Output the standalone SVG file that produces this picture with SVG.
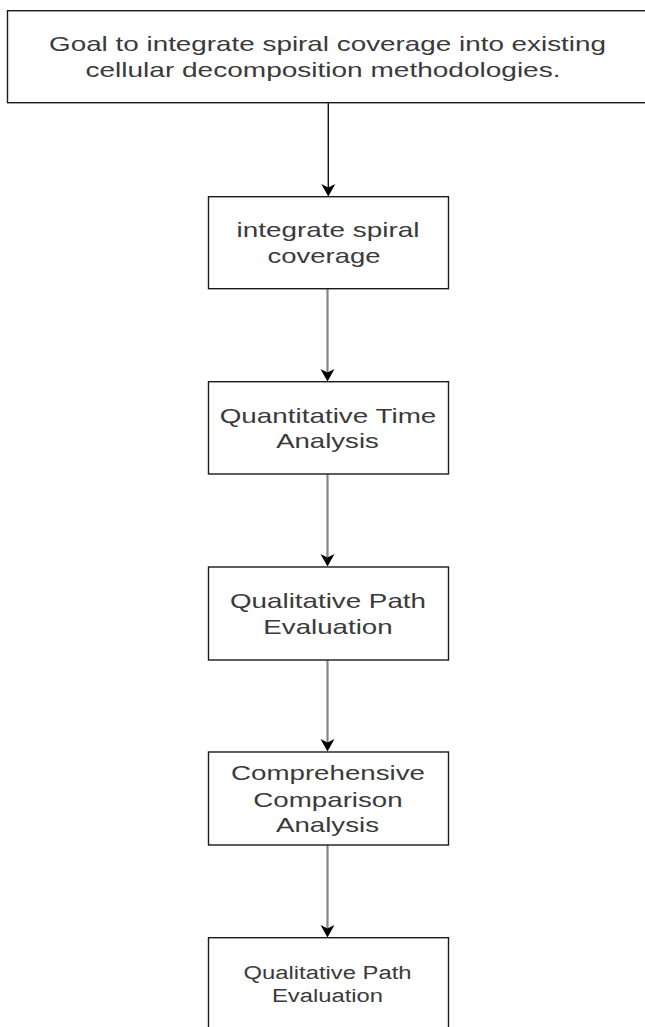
<svg xmlns="http://www.w3.org/2000/svg" width="645" height="1027" viewBox="0 0 645 1027">
<style>
.box{fill:#ffffff;stroke:#1a1a1a;stroke-width:1.4}
.t{font-family:"Liberation Sans",Arial,sans-serif;font-size:21px;fill:#3a3a3a;text-anchor:middle}
.s{font-size:18px}
.c1{stroke:#111111;stroke-width:1.4;fill:none}
.c2{stroke:#858585;stroke-width:2.2;fill:none}
.ah{fill:#000000;stroke:none}
</style>
<rect width="645" height="1027" fill="#ffffff"/>
<g id="connectors">
<line class="c1" x1="328.3" y1="103" x2="328.3" y2="190"/>
<path class="ah" d="M328.3,196.5 L321.3,184 L328.3,187.5 L335.3,184 Z"/>
<line class="c2" x1="327.5" y1="289" x2="327.5" y2="375"/>
<path class="ah" d="M327.5,381.5 L320.5,369 L327.5,372.5 L334.5,369 Z"/>
<line class="c2" x1="327.5" y1="474" x2="327.5" y2="560"/>
<path class="ah" d="M327.5,566.5 L320.5,554 L327.5,557.5 L334.5,554 Z"/>
<line class="c2" x1="327.5" y1="660" x2="327.5" y2="745"/>
<path class="ah" d="M327.5,751.5 L320.5,739 L327.5,742.5 L334.5,739 Z"/>
<line class="c2" x1="327.5" y1="845" x2="327.5" y2="931"/>
<path class="ah" d="M327.5,937.5 L320.5,925 L327.5,928.5 L334.5,925 Z"/>
</g>
<g id="goal">
<rect class="box" x="7.5" y="10.7" width="645" height="92"/>
<text class="t" x="327.5" y="51" textLength="557" lengthAdjust="spacingAndGlyphs">Goal to integrate spiral coverage into existing</text>
<text class="t" x="323" y="77" textLength="475" lengthAdjust="spacingAndGlyphs">cellular decomposition methodologies.</text>
</g>
<g id="n1">
<rect class="box" x="208.5" y="196.7" width="240" height="92"/>
<text class="t" x="328" y="237" textLength="183" lengthAdjust="spacingAndGlyphs">integrate spiral</text>
<text class="t" x="324" y="263" textLength="113" lengthAdjust="spacingAndGlyphs">coverage</text>
</g>
<g id="n2">
<rect class="box" x="208.5" y="381.7" width="240" height="92.3"/>
<text class="t" x="328" y="422.7" textLength="216.7" lengthAdjust="spacingAndGlyphs">Quantitative Time</text>
<text class="t" x="327.5" y="448.3" textLength="102.7" lengthAdjust="spacingAndGlyphs">Analysis</text>
</g>
<g id="n3">
<rect class="box" x="208.5" y="567" width="240" height="93"/>
<text class="t" x="328" y="608.3" textLength="196" lengthAdjust="spacingAndGlyphs">Qualitative Path</text>
<text class="t" x="328" y="634" textLength="129.4" lengthAdjust="spacingAndGlyphs">Evaluation</text>
</g>
<g id="n4">
<rect class="box" x="208.5" y="752" width="240" height="93"/>
<text class="t" x="328" y="780" textLength="194" lengthAdjust="spacingAndGlyphs">Comprehensive</text>
<text class="t" x="328" y="806.7" textLength="149.4" lengthAdjust="spacingAndGlyphs">Comparison</text>
<text class="t" x="327.5" y="831.7" textLength="103" lengthAdjust="spacingAndGlyphs">Analysis</text>
</g>
<g id="n5">
<rect class="box" x="208.5" y="937.7" width="240" height="100"/>
<text class="t s" x="327.5" y="979" textLength="168" lengthAdjust="spacingAndGlyphs">Qualitative Path</text>
<text class="t s" x="327.5" y="1001.7" textLength="111" lengthAdjust="spacingAndGlyphs">Evaluation</text>
</g>
</svg>
